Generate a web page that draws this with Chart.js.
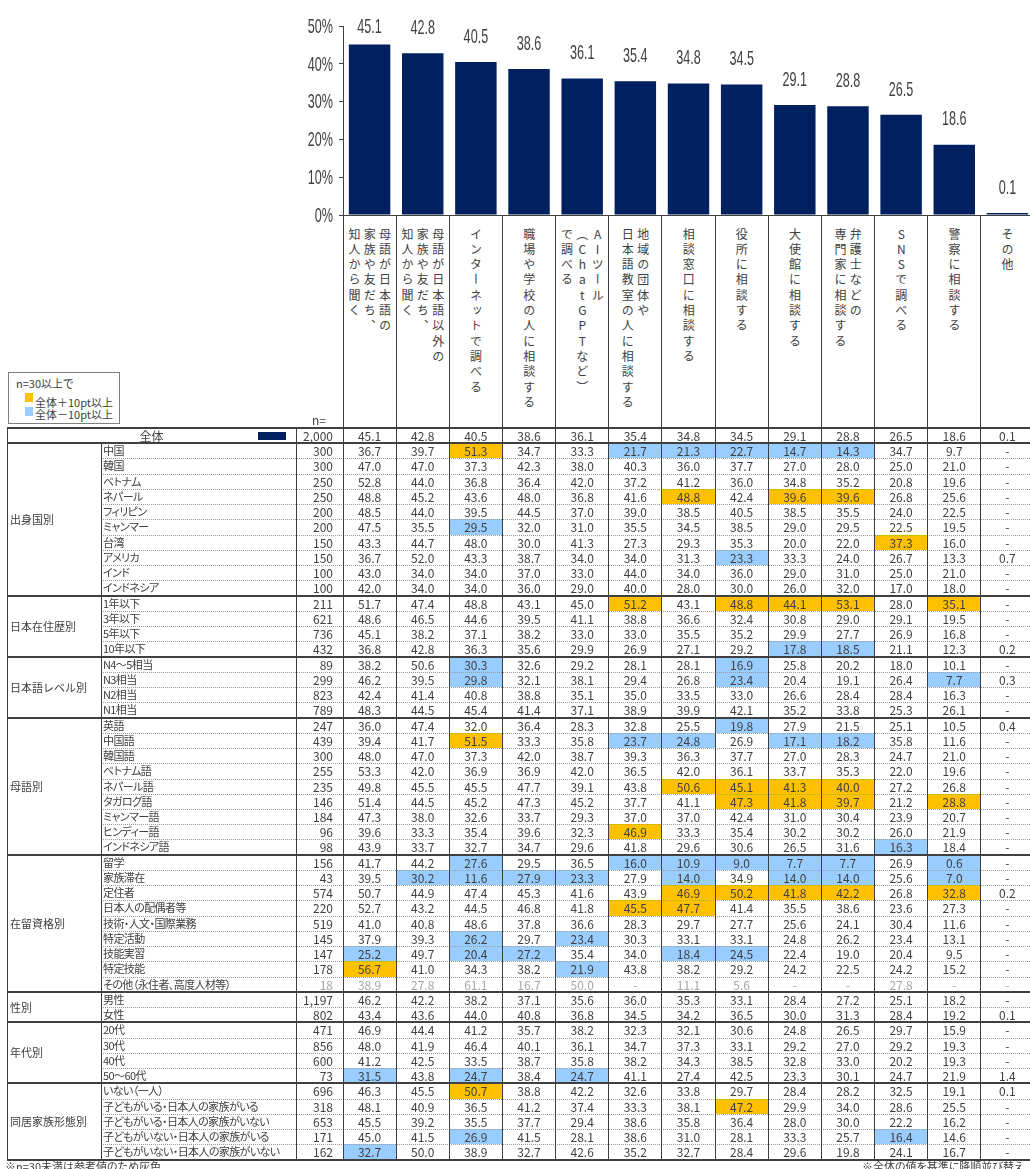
<!DOCTYPE html>
<html><head><meta charset="utf-8">
<script src="https://cdn.jsdelivr.net/npm/chart.js@4"></script>
<style>
html,body{margin:0;padding:0;background:#fff;}
body{width:1030px;height:1169px;overflow:hidden;position:relative;font-family:"Noto Sans CJK JP","Noto Sans",sans-serif;color:#404040;}
#wrap{position:absolute;left:0;top:0;width:1030px;height:1169px;overflow:hidden;}
#c{position:absolute;left:0;top:0;}
.abs{position:absolute;box-sizing:border-box;white-space:nowrap;}
.vt{writing-mode:vertical-rl;text-orientation:upright;font-size:12px;line-height:15.3px;letter-spacing:3.3px;margin-top:12px;color:#404040;}
.num{font-size:12px;text-align:center;color:#404040;}
.lbl{font-size:11px;font-feature-settings:"palt";color:#404040;}
.sub{letter-spacing:-0.6px;}
</style></head>
<body><div id="wrap"><canvas id="c" width="1034" height="230"></canvas></div>
<script>
// ---------- DATA ----------
const categories = ['母語が日本語の家族や友だち、知人から聞く','母語が日本語以外の家族や友だち、知人から聞く','インターネットで調べる','職場や学校の人に相談する','AIツール（ChatGPTなど）で調べる','地域の団体や日本語教室の人に相談する','相談窓口に相談する','役所に相談する','大使館に相談する','弁護士などの専門家に相談する','SNSで調べる','警察に相談する','その他'];
const headerLines = [['母語が日本語の','家族や友だち、','知人から聞く'],['母語が日本語以外の','家族や友だち、','知人から聞く'],['インターネットで調べる'],['職場や学校の人に相談する'],['AIツール','（ChatGPTなど）','で調べる'],['地域の団体や','日本語教室の人に相談する'],['相談窓口に相談する'],['役所に相談する'],['大使館に相談する'],['弁護士などの','専門家に相談する'],['SNSで調べる'],['警察に相談する'],['その他']];
const overall = [45.1,42.8,40.5,38.6,36.1,35.4,34.8,34.5,29.1,28.8,26.5,18.6,0.1];
const overallN = 2000;
const yTicks = [0,10,20,30,40,50];

const countryLabels = ['中国','韓国','ベトナム','ネパール','フィリピン','ミャンマー','台湾','アメリカ','インド','インドネシア'];
const countryN = [300,300,250,250,200,200,150,150,100,100];
const countryValues = [
 [36.7,39.7,51.3,34.7,33.3,21.7,21.3,22.7,14.7,14.3,34.7,9.7,null],
 [47.0,47.0,37.3,42.3,38.0,40.3,36.0,37.7,27.0,28.0,25.0,21.0,null],
 [52.8,44.0,36.8,36.4,42.0,37.2,41.2,36.0,34.8,35.2,20.8,19.6,null],
 [48.8,45.2,43.6,48.0,36.8,41.6,48.8,42.4,39.6,39.6,26.8,25.6,null],
 [48.5,44.0,39.5,44.5,37.0,39.0,38.5,40.5,38.5,35.5,24.0,22.5,null],
 [47.5,35.5,29.5,32.0,31.0,35.5,34.5,38.5,29.0,29.5,22.5,19.5,null],
 [43.3,44.7,48.0,30.0,41.3,27.3,29.3,35.3,20.0,22.0,37.3,16.0,null],
 [36.7,52.0,43.3,38.7,34.0,34.0,31.3,23.3,33.3,24.0,26.7,13.3,0.7],
 [43.0,34.0,34.0,37.0,33.0,44.0,34.0,36.0,29.0,31.0,25.0,21.0,null],
 [42.0,34.0,34.0,36.0,29.0,40.0,28.0,30.0,26.0,32.0,17.0,18.0,null]];

const residenceLabels = ['1年以下','3年以下','5年以下','10年以下'];
const residenceN = [211,621,736,432];
const residenceValues = [
 [51.7,47.4,48.8,43.1,45.0,51.2,43.1,48.8,44.1,53.1,28.0,35.1,null],
 [48.6,46.5,44.6,39.5,41.1,38.8,36.6,32.4,30.8,29.0,29.1,19.5,null],
 [45.1,38.2,37.1,38.2,33.0,33.0,35.5,35.2,29.9,27.7,26.9,16.8,null],
 [36.8,42.8,36.3,35.6,29.9,26.9,27.1,29.2,17.8,18.5,21.1,12.3,0.2]];

const levelLabels = ['N4～5相当','N3相当','N2相当','N1相当'];
const levelN = [89,299,823,789];
const levelValues = [
 [38.2,50.6,30.3,32.6,29.2,28.1,28.1,16.9,25.8,20.2,18.0,10.1,null],
 [46.2,39.5,29.8,32.1,38.1,29.4,26.8,23.4,20.4,19.1,26.4,7.7,0.3],
 [42.4,41.4,40.8,38.8,35.1,35.0,33.5,33.0,26.6,28.4,28.4,16.3,null],
 [48.3,44.5,45.4,41.4,37.1,38.9,39.9,42.1,35.2,33.8,25.3,26.1,null]];

const langLabels = ['英語','中国語','韓国語','ベトナム語','ネパール語','タガログ語','ミャンマー語','ヒンディー語','インドネシア語'];
const langN = [247,439,300,255,235,146,184,96,98];
const langValues = [
 [36.0,47.4,32.0,36.4,28.3,32.8,25.5,19.8,27.9,21.5,25.1,10.5,0.4],
 [39.4,41.7,51.5,33.3,35.8,23.7,24.8,26.9,17.1,18.2,35.8,11.6,null],
 [48.0,47.0,37.3,42.0,38.7,39.3,36.3,37.7,27.0,28.3,24.7,21.0,null],
 [53.3,42.0,36.9,36.9,42.0,36.5,42.0,36.1,33.7,35.3,22.0,19.6,null],
 [49.8,45.5,45.5,47.7,39.1,43.8,50.6,45.1,41.3,40.0,27.2,26.8,null],
 [51.4,44.5,45.2,47.3,45.2,37.7,41.1,47.3,41.8,39.7,21.2,28.8,null],
 [47.3,38.0,32.6,33.7,29.3,37.0,37.0,42.4,31.0,30.4,23.9,20.7,null],
 [39.6,33.3,35.4,39.6,32.3,46.9,33.3,35.4,30.2,30.2,26.0,21.9,null],
 [43.9,33.7,32.7,34.7,29.6,41.8,29.6,30.6,26.5,31.6,16.3,18.4,null]];

const statusLabels = ['留学','家族滞在','定住者','日本人の配偶者等','技術・人文・国際業務','特定活動','技能実習','特定技能','その他（永住者、高度人材等）'];
const statusN = [156,43,574,220,519,145,147,178,18];
const statusValues = [
 [41.7,44.2,27.6,29.5,36.5,16.0,10.9,9.0,7.7,7.7,26.9,0.6,null],
 [39.5,30.2,11.6,27.9,23.3,27.9,14.0,34.9,14.0,14.0,25.6,7.0,null],
 [50.7,44.9,47.4,45.3,41.6,43.9,46.9,50.2,41.8,42.2,26.8,32.8,0.2],
 [52.7,43.2,44.5,46.8,41.8,45.5,47.7,41.4,35.5,38.6,23.6,27.3,null],
 [41.0,40.8,48.6,37.8,36.6,28.3,29.7,27.7,25.6,24.1,30.4,11.6,null],
 [37.9,39.3,26.2,29.7,23.4,30.3,33.1,33.1,24.8,26.2,23.4,13.1,null],
 [25.2,49.7,20.4,27.2,35.4,34.0,18.4,24.5,22.4,19.0,20.4,9.5,null],
 [56.7,41.0,34.3,38.2,21.9,43.8,38.2,29.2,24.2,22.5,24.2,15.2,null],
 [38.9,27.8,61.1,16.7,50.0,null,11.1,5.6,null,null,27.8,null,null]];

const sexLabels = ['男性','女性'];
const sexN = [1197,802];
const sexValues = [
 [46.2,42.2,38.2,37.1,35.6,36.0,35.3,33.1,28.4,27.2,25.1,18.2,null],
 [43.4,43.6,44.0,40.8,36.8,34.5,34.2,36.5,30.0,31.3,28.4,19.2,0.1]];

const ageLabels = ['20代','30代','40代','50～60代'];
const ageN = [471,856,600,73];
const ageValues = [
 [46.9,44.4,41.2,35.7,38.2,32.3,32.1,30.6,24.8,26.5,29.7,15.9,null],
 [48.0,41.9,46.4,40.1,36.1,34.7,37.3,33.1,29.2,27.0,29.2,19.3,null],
 [41.2,42.5,33.5,38.7,35.8,38.2,34.3,38.5,32.8,33.0,20.2,19.3,null],
 [31.5,43.8,24.7,38.4,24.7,41.1,27.4,42.5,23.3,30.1,24.7,21.9,1.4]];

const familyLabels = ['いない（一人）','子どもがいる・日本人の家族がいる','子どもがいる・日本人の家族がいない','子どもがいない・日本人の家族がいる','子どもがいない・日本人の家族がいない'];
const familyN = [696,318,653,171,162];
const familyValues = [
 [46.3,45.5,50.7,38.8,42.2,32.6,33.8,29.7,28.4,28.2,32.5,19.1,0.1],
 [48.1,40.9,36.5,41.2,37.4,33.3,38.1,47.2,29.9,34.0,28.6,25.5,null],
 [45.5,39.2,35.5,37.7,29.4,38.6,35.8,36.4,28.0,30.0,22.2,16.2,null],
 [45.0,41.5,26.9,41.5,28.1,38.6,31.0,28.1,33.3,25.7,16.4,14.6,null],
 [32.7,50.0,38.9,32.7,42.6,35.2,32.7,28.4,29.6,19.8,24.1,16.7,null]];

const groupNames = ['出身国別','日本在住歴別','日本語レベル別','母語別','在留資格別','性別','年代別','同居家族形態別'];

// ---------- CHART ----------
const TXT = '#404040', NAVY = '#002060', HI = '#FFC000', LO = '#99CCFF', GRAY = '#A6A6A6';
const SX = 0.6;
const labelPlugin = {
  id: 'labels',
  afterDraw(chart) {
    const ctx = chart.ctx, ys = chart.scales.y;
    ctx.save();
    ctx.fillStyle = TXT;
    ctx.font = '21px "Liberation Sans", Arial, sans-serif';
    ctx.textBaseline = 'middle';
    yTicks.forEach(v => {
      const y = ys.getPixelForValue(v);
      ctx.save(); ctx.translate(333, y + 1); ctx.scale(SX, 1); ctx.textAlign = 'right'; ctx.fillText(v + '%', 0, 0); ctx.restore();
    });
    const meta = chart.getDatasetMeta(0);
    meta.data.forEach((bar, i) => {
      const v = chart.data.datasets[0].data[i];
      const y = Math.max(bar.y - 25, ys.top + 1);
      ctx.save(); ctx.translate(bar.x, y); ctx.scale(SX, 1); ctx.textAlign = 'center'; ctx.fillText(v.toFixed(1), 0, 0); ctx.restore();
    });
    ctx.restore();
  }
};
const chart = new Chart(document.getElementById('c'), {
  type: 'bar',
  data: { labels: categories, datasets: [{ data: overall, backgroundColor: NAVY, barPercentage: 0.78, categoryPercentage: 1, minBarLength: 2 }] },
  options: {
    responsive: false, animation: false, devicePixelRatio: 1,
    layout: { padding: { top: 26, left: 0, right: 0, bottom: 0 } },
    plugins: { legend: { display: false }, tooltip: { enabled: false } },
    scales: {
      x: { grid: { display: false }, ticks: { display: false }, border: { display: true, color: TXT, width: 1 }, afterFit(s) { s.height = 15; } },
      y: { min: 0, max: 50, ticks: { display: false, stepSize: 10 }, grid: { drawOnChartArea: false, drawTicks: true, tickLength: 4, color: TXT }, border: { display: true, color: TXT, width: 1 }, afterFit(s) { s.width = 343; } }
    }
  },
  plugins: [labelPlugin]
});

// ---------- HTML TABLE ----------
const wrap = document.getElementById('wrap');
function box(x, y, w, h, style, text) {
  const d = document.createElement('div');
  d.className = 'abs';
  d.style.cssText = `left:${x}px;top:${y}px;width:${w}px;height:${h}px;` + (style || '');
  if (text !== undefined) d.textContent = text;
  wrap.appendChild(d);
  return d;
}
const xs = chart.scales.x;
const colW = (xs.right - xs.left) / categories.length;
const colL = i => xs.left + i * colW;
const HTOP = chart.chartArea.bottom + 1, TOP = 428, RH = 15.24;

// header cells
headerLines.forEach((lines, i) => {
  const d = box(colL(i), HTOP, colW, TOP - HTOP, 'display:flex;justify-content:center;align-items:flex-start;background:#fff;');
  const v = document.createElement('div');
  v.className = 'vt';
  v.innerHTML = lines.join('<br>');
  d.appendChild(v);
});

// rows
const groups = [
  [countryLabels, countryN, countryValues], [residenceLabels, residenceN, residenceValues],
  [levelLabels, levelN, levelValues], [langLabels, langN, langValues],
  [statusLabels, statusN, statusValues], [sexLabels, sexN, sexValues],
  [ageLabels, ageN, ageValues], [familyLabels, familyN, familyValues]];
const rows = [{ label: '全体', n: overallN, vals: overall, total: true }];
const groupSpans = [];
groups.forEach((g, gi) => {
  groupSpans.push({ name: groupNames[gi], start: rows.length, len: g[0].length });
  g[0].forEach((lab, k) => rows.push({ label: lab, n: g[1][k], vals: g[2][k] }));
});
const BOTTOM = TOP + rows.length * RH;
const rowY = r => TOP + r * RH;

function flag(v, o, n) {
  if (n < 30 || v == null) return null;
  const d = Math.round((v - o) * 10);
  if (d >= 100) return HI;
  if (d <= -100) return LO;
  return null;
}
// fills
rows.forEach((row, r) => {
  if (row.total) return;
  row.vals.forEach((v, i) => {
    const c = flag(v, overall[i], row.n);
    if (c) box(colL(i), rowY(r), colW, RH, `background:${c};`);
  });
});
// dotted inner lines
groupSpans.forEach(g => {
  for (let k = 1; k < g.len; k++) {
    box(101, rowY(g.start + k), 1030 - 101, 1, 'border-top:1px dotted #9a9a9a;');
  }
});
// vertical lines
for (let i = 0; i <= categories.length; i++) box(Math.floor(colL(i)), HTOP - 1, 1, BOTTOM - HTOP + 1, `background:${TXT};`);
box(7, TOP, 1, BOTTOM - TOP, `background:${TXT};`);
box(296, TOP, 1, BOTTOM - TOP, `background:${TXT};`);
box(101, TOP + RH, 1, BOTTOM - TOP - RH, `background:${TXT};`);
// thick horizontal lines
box(7, TOP - 1, 1030, 2, `background:${TXT};`);
box(7, rowY(1) - 1, 1030, 2, `background:${TXT};`);
groupSpans.forEach(g => box(7, rowY(g.start + g.len) - 1, 1030, 2, `background:${TXT};`));

// text
const fmtN = n => n.toLocaleString('en-US');
rows.forEach((row, r) => {
  const y = rowY(r);
  const gray = row.n < 30;
  const col = gray ? GRAY : TXT;
  if (row.total) {
    box(7, y, 289, RH, `line-height:${RH}px;text-align:center;font-size:12px;`, row.label);
    box(258, y + 4, 28, 8, `background:${NAVY};`);
  } else {
    const d = box(102, y, 194, RH, `line-height:${RH}px;padding-left:1px;`, row.label);
    d.classList.add('lbl'); d.classList.add('sub');
  }
  box(297, y, 46, RH, `line-height:${RH}px;text-align:right;padding-right:10px;font-size:12px;color:${col};`, fmtN(row.n));
  row.vals.forEach((v, i) => {
    const d = box(colL(i), y, colW, RH, `line-height:${RH}px;color:${col};`, v == null ? '-' : v.toFixed(1));
    d.classList.add('num');
  });
});
groupSpans.forEach(g => {
  box(8, rowY(g.start), 93, g.len * RH, `line-height:${g.len * RH}px;padding-left:2px;font-size:11px;`, g.name);
});

// legend
box(8, 372, 112, 52, 'border:1px solid #7f7f7f;background:#fff;');
box(16, 376, 100, 14, 'font-size:11px;line-height:14px;', 'n=30以上で').classList.add('lbl');
box(25, 393, 8, 9, `background:${HI};`);
box(35, 395, 85, 14, 'font-size:11px;line-height:14px;', '全体＋10pt以上').classList.add('lbl');
box(25, 407, 8, 9, `background:${LO};`);
box(35, 407, 85, 14, 'font-size:11px;line-height:14px;', '全体－10pt以上').classList.add('lbl');
box(296, 413, 46, 14, 'font-size:12px;line-height:14px;text-align:center;', 'n=');

// footnotes
box(5, 1159, 300, 14, 'font-size:11px;line-height:14px;', '※n=30未満は参考値のため灰色').classList.add('lbl');
box(862, 1159, 200, 14, 'font-size:11px;line-height:14px;', '※全体の値を基準に降順並び替え').classList.add('lbl');
</script>
</body></html>
